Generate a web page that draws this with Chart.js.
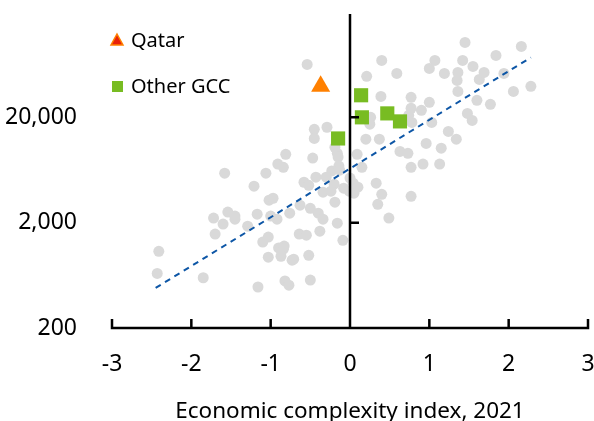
<!DOCTYPE html>
<html>
<head>
    <meta charset="UTF-8">
    <script src="https://cdn.jsdelivr.net/npm/chart.js@4.4.1/dist/chart.umd.min.js"></script>
    <title>Economic complexity vs GDP per capita</title>
    <style>
        html, body { margin: 0; padding: 0; background: #fff; }
    </style>
</head>
<body>
    <canvas id="myChart" width="594" height="421"></canvas>
    <script type="text/javascript">
        // other countries: economic complexity index and GDP per capita
        const otherEci = [-0.54, 0.40, 0.21, 0.59, 0.39, 0.77, -0.45, -0.29, -0.45, -0.19, -0.16, -0.15, -0.47, 0.26, 0.25, 0.20, 0.37, 0.09, 0.63, 0.73,
            0.77, 0.78, 1.45, 2.16, 1.84, 1.07, 1.42, 1.00, 1.55, 1.19, 1.36, 1.35, 1.63, 1.69, 1.94, 1.36, 2.06, 2.28, 1.00, 1.60,
            1.77, 0.90, 0.74, 1.03, 1.48, 1.54, 1.24, 0.96, 1.34, 1.15, 0.77, 0.92, 1.13, 0.15, -0.81, -0.91, -0.84, -1.58, -1.06, -1.21,
            -1.02, -0.97, -1.54, -1.45, -1.45, -1.72, -1.60, -1.17, -1.29, -1.70, -1.03, -1.10, -1.03, -2.41, -2.43, -1.85, -1.16, -0.23, -0.43, -0.30,
            -0.58, -0.52, -0.20, 0.00, 0.04, 0.10, 0.05, -0.08, 0.33, 0.40, 0.35, 0.49, -0.34, -0.24, -0.19, -0.63, -0.50, -0.76, -0.40, -0.34,
            -0.92, -1.00, -0.16, -0.38, -0.64, -0.55, -0.90, -0.83, -0.84, -0.09, -0.87, -0.73, -0.71, -0.52, -0.82, -0.77, -0.50, 0.77, -0.14, -0.01,
            -0.13];
        const otherGdp = [63600, 69400, 49000, 52200, 31600, 31000, 15400, 16100, 12600, 10400, 9100, 8400, 8200, 20000, 17200, 12400, 12400, 8900, 9500, 9100,
            24400, 17900, 102800, 94200, 77400, 69400, 69400, 58200, 60800, 52200, 53400, 44800, 45800, 53400, 52200, 35200, 35200, 39400, 27800, 29000,
            26600, 23300, 20900, 17900, 21800, 18700, 14700, 11300, 12400, 10200, 6700, 7200, 7200, 6700, 8900, 7200, 6700, 5900, 5900, 4440,
            3270, 3410, 2520, 2310, 2160, 2210, 1940, 2410, 1850, 1560, 1460, 1310, 940, 1070, 660, 600, 490, 6200, 5400, 5400,
            4840, 4530, 4640, 5300, 4740, 4340, 3810, 4250, 4740, 3720, 2990, 2210, 3890, 3980, 3130, 2930, 2740, 2460, 2460, 2160,
            2160, 2310, 1980, 1660, 1560, 1520, 1150, 1200, 1120, 1360, 960, 880, 900, 980, 560, 510, 570, 3560, 6900, 3980,
            6300];

        const gccEci = [0.14, 0.15, 0.47, 0.63, -0.15];
        const gccGdp = [32400, 20000, 21800, 18300, 12600];

        const qatarEci = [-0.37];
        const qatarGdp = [39400];

        const trendEci = [-2.45, 2.28];
        const trendGdp = [480, 74000];

        const xTicks = [-3, -2, -1, 0, 1, 2, 3];
        const yTicks = [200, 2000, 20000, 200000];
        const yLabels = ['200', '2,000', '20,000', ''];

        const FONT = '"Noto Sans", "Open Sans", sans-serif';

        function pts(xs, ys) {
            return xs.map((v, i) => ({x: v, y: ys[i]}));
        }

        // axis lines: bottom axis and vertical line at x = 0, ticks pointing inward
        const axisLines = {
            id: 'axisLines',
            afterDatasetsDraw(chart) {
                const ctx = chart.ctx;
                const x = chart.scales.x, y = chart.scales.y;
                const x0 = x.getPixelForValue(0);
                const yb = y.getPixelForValue(200);
                const yt = y.getPixelForValue(200000);
                ctx.save();
                ctx.strokeStyle = '#000';
                ctx.lineWidth = 2.5;
                ctx.beginPath();
                ctx.moveTo(x.getPixelForValue(-3) - 1.25, yb);
                ctx.lineTo(x.getPixelForValue(3) + 1.25, yb);
                ctx.moveTo(x0, yt + 2);
                ctx.lineTo(x0, yb);
                xTicks.forEach(v => {
                    const px = x.getPixelForValue(v);
                    ctx.moveTo(px, yb);
                    ctx.lineTo(px, yb - 9);
                });
                [2000, 20000].forEach(v => {
                    const py = y.getPixelForValue(v);
                    ctx.moveTo(x0, py);
                    ctx.lineTo(x0 + 9, py);
                });
                ctx.stroke();
                ctx.restore();
            }
        };

        // legend in the top-left corner of the plot
        const cornerLegend = {
            id: 'cornerLegend',
            afterDraw(chart) {
                const ctx = chart.ctx;
                const left = chart.chartArea.left;
                ctx.save();
                ctx.font = '20px ' + FONT;
                ctx.fillStyle = '#000';
                ctx.textBaseline = 'middle';
                ctx.fillText('Qatar', left + 19, 41);
                ctx.fillText('Other GCC', left + 19, 87);
                // triangle
                ctx.beginPath();
                ctx.moveTo(left + 5, 34);
                ctx.lineTo(left + 11, 45);
                ctx.lineTo(left - 1, 45);
                ctx.closePath();
                ctx.fillStyle = '#e8210a';
                ctx.fill();
                ctx.strokeStyle = '#ff8000';
                ctx.lineWidth = 1.5;
                ctx.stroke();
                // square
                ctx.fillStyle = '#78bc22';
                ctx.fillRect(left, 81, 11, 11);
                ctx.restore();
            }
        };

        const ctx = document.getElementById('myChart').getContext('2d');
        const myChart = new Chart(ctx, {
            type: 'scatter',
            data: {
                datasets: [{
                    label: 'Qatar',
                    data: pts(qatarEci, qatarGdp),
                    pointStyle: 'triangle',
                    pointRadius: 11,
                    backgroundColor: '#ff8000',
                    borderWidth: 0,
                    order: 0
                }, {
                    label: 'Other GCC',
                    data: pts(gccEci, gccGdp),
                    pointStyle: 'rect',
                    pointRadius: 10,
                    backgroundColor: '#78bc22',
                    borderWidth: 0,
                    order: 1
                }, {
                    label: 'Trend',
                    data: pts(trendEci, trendGdp),
                    showLine: true,
                    pointRadius: 0,
                    borderColor: '#0d56a6',
                    borderWidth: 2,
                    borderDash: [6, 5],
                    order: 2
                }, {
                    label: 'Others',
                    data: pts(otherEci, otherGdp),
                    pointRadius: 5.5,
                    backgroundColor: '#d9d9d9',
                    borderWidth: 0,
                    order: 3
                }]
            },
            options: {
                responsive: false,
                animation: false,
                layout: { autoPadding: false, padding: { top: 12, right: 6, left: 0, bottom: 0 } },
                plugins: {
                    legend: { display: false },
                    tooltip: { enabled: false }
                },
                scales: {
                    x: {
                        type: 'linear',
                        min: -3,
                        max: 3,
                        grid: { display: false },
                        border: { display: false },
                        afterBuildTicks: s => { s.ticks = xTicks.map(v => ({value: v})); },
                        afterFit: s => {
                            s.height = 93;
                            s.paddingLeft = 0;
                            s.paddingRight = 0;
                        },
                        ticks: {
                            padding: 15,
                            color: '#000',
                            font: { family: FONT, size: 23 }
                        },
                        title: {
                            display: true,
                            text: 'Economic complexity index, 2021',
                            color: '#000',
                            font: { family: FONT, size: 22.5 },
                            padding: { top: 0, bottom: -4 }
                        }
                    },
                    y: {
                        type: 'logarithmic',
                        min: 200,
                        max: 200000,
                        grid: { display: false },
                        border: { display: false },
                        afterBuildTicks: s => { s.ticks = yTicks.map(v => ({value: v})); },
                        afterFit: s => {
                            s.width = 112;
                            s.paddingTop = 0;
                            s.paddingBottom = 0;
                        },
                        ticks: {
                            padding: 27,
                            color: '#000',
                            font: { family: FONT, size: 23 },
                            callback: v => {
                                const i = yTicks.indexOf(v);
                                return i >= 0 ? yLabels[i] : '';
                            }
                        }
                    }
                }
            },
            plugins: [axisLines, cornerLegend]
        });
    </script>
</body>
</html>
